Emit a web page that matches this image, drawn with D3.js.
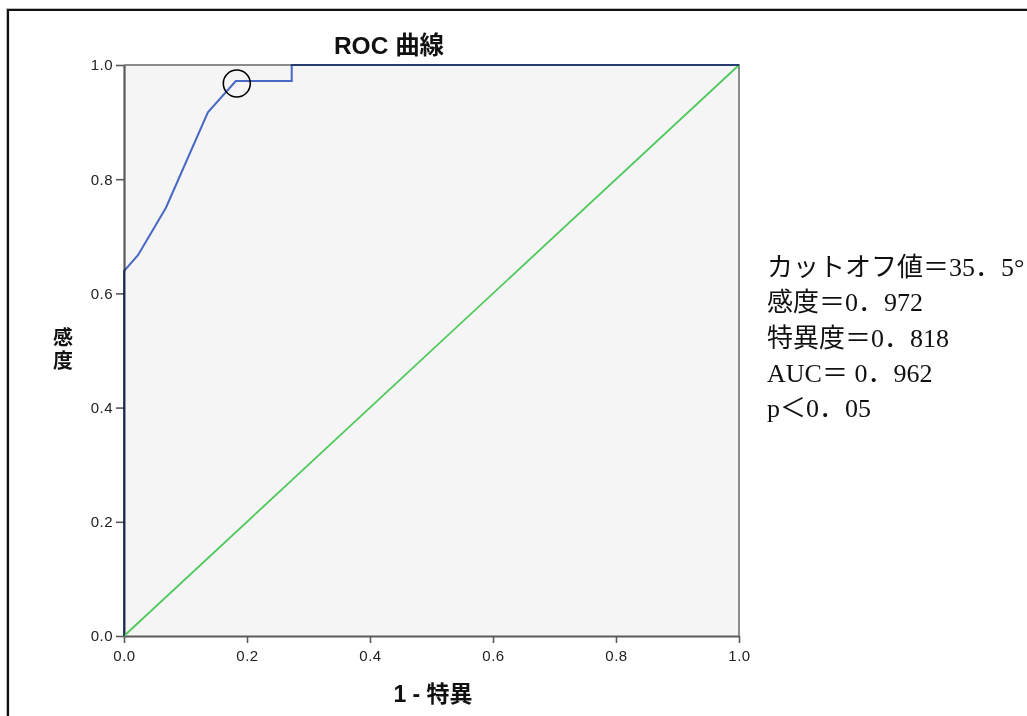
<!DOCTYPE html>
<html><head><meta charset="utf-8">
<script src="https://cdn.jsdelivr.net/npm/d3@7"></script>
<style>
html,body{margin:0;padding:0;background:#fff;}
svg{display:block;}
</style></head>
<body>
<svg id="chart" width="1027" height="716"></svg>
<script>
// ---- data ----
const fpr = [0, 0, 0.0227, 0.0682, 0.1364, 0.1818, 0.2727, 0.2727, 1.0];
const tpr = [0, 0.639, 0.667, 0.750, 0.917, 0.972, 0.972, 1.0, 1.0];
const refLine = [[0, 0], [1, 1]];
const cutoffPoint = [0.1818, 0.972];
const tickValues = [0, 0.2, 0.4, 0.6, 0.8, 1.0];
const titleText = "ROC 曲線";
const xTitle = "1 - 特異";
const yTitle = "感度";
const notes = ["カットオフ値＝35．5°", "感度＝0．972", "特異度＝0．818", "AUC＝ 0．962", "p＜0．05"];

const svg = d3.select("#chart");
const W = 1027, H = 716;

// outer frame (top and left only, as in reference)
svg.append("path").attr("d", `M8,${H} L8,10 L${W},10`)
  .attr("fill","none").attr("stroke","#111").attr("stroke-width",2.2);
svg.append("path").attr("d", `M6.5,${H} L6.5,8.5 L${W},8.5`)
  .attr("fill","none").attr("stroke","#bbb").attr("stroke-width",1);

const x = d3.scaleLinear().domain([0,1]).range([124,739]);
const y = d3.scaleLinear().domain([0,1]).range([636,65]);

// plot background
svg.append("rect").attr("x",x(0)).attr("y",y(1)).attr("width",x(1)-x(0)).attr("height",y(0)-y(1))
  .attr("fill","#f5f5f5");
// top & right frame
svg.append("path").attr("d",`M${x(0)},${y(1)} L${x(1)},${y(1)} L${x(1)},${y(0)}`)
  .attr("fill","none").attr("stroke","#8c8c8c").attr("stroke-width",2);

// axes
const fmt = d3.format(".1f");
const gx = svg.append("g").attr("transform",`translate(0,${y(0)})`)
  .call(d3.axisBottom(x).tickValues(tickValues).tickFormat(fmt).tickSize(7).tickSizeOuter(0).tickPadding(7));
const gy = svg.append("g").attr("transform",`translate(${x(0)},0)`)
  .call(d3.axisLeft(y).tickValues(tickValues).tickFormat(fmt).tickSize(8).tickSizeOuter(0).tickPadding(3));
[gx,gy].forEach(g=>{
  g.select(".domain").attr("stroke","#5a5a5a").attr("stroke-width",2.2);
  g.selectAll(".tick line").attr("stroke","#5a5a5a").attr("stroke-width",1.6);
  g.selectAll(".tick text").attr("fill","#222")
    .style("font-family","Liberation Sans, Arial, sans-serif").style("font-size","15px").style("letter-spacing","0.5px");
});

// reference diagonal
svg.append("path").datum(refLine)
  .attr("d", d3.line().x(d=>x(d[0])).y(d=>y(d[1])))
  .attr("fill","none").attr("stroke","#4fc85c").attr("stroke-width",1.8);

// ROC curve
const pts = fpr.map((v,i)=>[v,tpr[i]]);
svg.append("path").datum(pts)
  .attr("d", d3.line().x(d=>x(d[0])).y(d=>y(d[1])))
  .attr("fill","none").attr("stroke","#4a6ccc").attr("stroke-width",2)
  .style("mix-blend-mode","multiply");

// cutoff circle
svg.append("circle").attr("cx",x(cutoffPoint[0])+1).attr("cy",y(cutoffPoint[1])+2.5).attr("r",13.5)
  .attr("fill","none").attr("stroke","#000").attr("stroke-width",1.6);

// titles
svg.append("text").attr("x",389).attr("y",54).attr("text-anchor","middle")
  .style("font-family","Liberation Sans, 'Noto Sans CJK JP', sans-serif").style("font-weight","bold").style("font-size","24.5px")
  .attr("fill","#111").text(titleText);
svg.append("text").attr("x",433).attr("y",702).attr("text-anchor","middle")
  .style("font-family","Liberation Sans, 'Noto Sans CJK JP', sans-serif").style("font-weight","bold").style("font-size","23px")
  .attr("fill","#111").text(xTitle);
svg.append("text").attr("x",63).attr("y",327)
  .style("writing-mode","vertical-rl").style("letter-spacing","3px")
  .style("font-family","'Noto Sans CJK JP', sans-serif").style("font-weight","bold").style("font-size","20px")
  .attr("fill","#111").text(yTitle);

// annotation
svg.append("g").selectAll("text").data(notes).join("text")
  .attr("x",767).attr("y",(d,i)=>276+i*35.3)
  .style("font-family","'Liberation Serif', 'Noto Sans CJK JP', serif").style("font-size","26px")
  .attr("fill","#111").text(d=>d);
</script>
</body></html>
